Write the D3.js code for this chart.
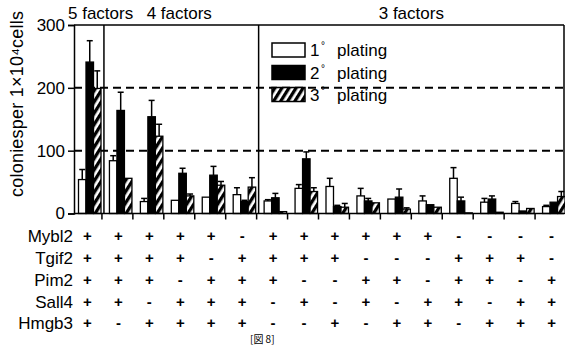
<!DOCTYPE html>
<html>
<head>
<meta charset="utf-8">
<script src="https://cdn.jsdelivr.net/npm/d3@7/dist/d3.min.js"></script>
<style>
  html, body { margin: 0; padding: 0; background: #fff; }
  svg { display: block; font-family: "Liberation Sans", Arial, sans-serif; }
</style>
</head>
<body>
<svg id="chart" width="565" height="345"></svg>
<script>
// values (colonies per 1x10^4 cells)
const plating1 = [54, 84, 19, 21, 26, 30, 20, 40, 43, 28, 23, 20, 56, 18, 16, 11];
const err1     = [16, 8, 5, 0, 0, 11, 2, 6, 13, 12, 0, 8, 17, 6, 3, 2];
const plating2 = [241, 164, 154, 64, 61, 19, 25, 87, 11, 20, 26, 14, 20, 23, 4, 18];
const err2     = [34, 29, 26, 8, 14, 2, 7, 11, 2, 4, 13, 0, 6, 5, 0, 0];
const plating3 = [199, 56, 123, 28, 45, 42, 3, 35, 10, 17, 7, 10, 1, 2, 8, 27];
const err3     = [28, 0, 19, 3, 6, 15, 0, 6, 6, 0, 2, 0, 0, 0, 0, 8];

const seriesNames = ['1', '2', '3'];
const factorNames = ['Mybl2', 'Tgif2', 'Pim2', 'Sall4', 'Hmgb3'];
const mybl2 = ['+','+','+','+','+','-','+','+','+','+','+','+','-','-','-','-'];
const tgif2 = ['+','+','+','+','-','+','+','+','+','-','-','-','+','+','+','-'];
const pim2  = ['+','+','+','-','+','+','+','-','-','+','+','-','+','+','-','+'];
const sall4 = ['+','+','-','+','+','+','-','+','-','+','-','+','+','-','+','+'];
const hmgb3 = ['+','-','+','+','+','+','-','-','+','-','+','+','-','+','+','+'];
const sectionLabels = ['5 factors', '4 factors', '3 factors'];
const sectionSizes = [1, 5, 10];
const yTicks = [0, 100, 200, 300];

const svg = d3.select('#chart');
const groups = d3.range(plating1.length);
const values = [plating1, plating2, plating3];
const errors = [err1, err2, err3];
const signs = [mybl2, tgif2, pim2, sall4, hmgb3];

const x0 = d3.scaleBand().domain(groups).range([71, 566]).padding(0);
const x1 = d3.scaleBand().domain([0, 1, 2]).range([7.5, 30]).padding(0);
const y = d3.scaleLinear().domain([0, 300]).range([213.5, 25]);
const axisX = 74, rightX = 564;

const defs = svg.append('defs');
const pat = defs.append('pattern')
  .attr('id', 'hatch').attr('patternUnits', 'userSpaceOnUse')
  .attr('width', 6).attr('height', 6)
  .attr('patternTransform', 'rotate(32)');
pat.append('rect').attr('width', 6).attr('height', 6).attr('fill', '#fff');
pat.append('rect').attr('width', 3.3).attr('height', 6).attr('fill', '#000');

const fills = ['#fff', '#000', 'url(#hatch)'];

// frame
svg.append('line').attr('x1', axisX).attr('x2', rightX).attr('y1', y(300)).attr('y2', y(300))
  .attr('stroke', '#000').attr('stroke-width', 1.5);
svg.append('line').attr('x1', rightX).attr('x2', rightX).attr('y1', y(300)).attr('y2', y(0))
  .attr('stroke', '#000').attr('stroke-width', 1.5);

// dashed reference lines
svg.selectAll('.ref').data([100, 200]).enter().append('line')
  .attr('x1', axisX).attr('x2', rightX)
  .attr('y1', d => y(d)).attr('y2', d => y(d))
  .attr('stroke', '#000').attr('stroke-width', 2).attr('stroke-dasharray', '8,5');

// section dividers and labels
let start = 0;
sectionSizes.forEach((n, i) => {
  const left = x0(start);
  const right = x0(start + n - 1) + x0.bandwidth();
  if (i > 0) {
    svg.append('line').attr('x1', left + 2).attr('x2', left + 2)
      .attr('y1', y(300)).attr('y2', y(0))
      .attr('stroke', '#000').attr('stroke-width', 1.5);
  }
  svg.append('text')
    .attr('x', i === 0 ? left - 3 : (left + right) / 2)
    .attr('y', 19)
    .attr('text-anchor', i === 0 ? 'start' : 'middle')
    .attr('font-size', 17)
    .text(sectionLabels[i]);
  start += n;
});

// bars
const g = svg.selectAll('.grp').data(groups).enter().append('g')
  .attr('transform', d => 'translate(' + x0(d) + ',0)');

[0, 1, 2].forEach(s => {
  g.append('rect')
    .attr('x', x1(s))
    .attr('y', d => y(values[s][d]))
    .attr('width', x1.bandwidth())
    .attr('height', d => y(0) - y(values[s][d]))
    .attr('fill', fills[s])
    .attr('stroke', '#000').attr('stroke-width', 1.3);
  const eb = g.filter(d => errors[s][d] > 0);
  eb.append('line')
    .attr('x1', x1(s) + x1.bandwidth() / 2).attr('x2', x1(s) + x1.bandwidth() / 2)
    .attr('y1', d => y(values[s][d])).attr('y2', d => y(values[s][d] + errors[s][d]))
    .attr('stroke', '#000').attr('stroke-width', 1.5);
  eb.append('line')
    .attr('x1', x1(s) + x1.bandwidth() / 2 - 3).attr('x2', x1(s) + x1.bandwidth() / 2 + 3)
    .attr('y1', d => y(values[s][d] + errors[s][d])).attr('y2', d => y(values[s][d] + errors[s][d]))
    .attr('stroke', '#000').attr('stroke-width', 1.5);
});

// y axis
const yAxis = d3.axisLeft(y).tickValues(yTicks).tickSize(6).tickPadding(3).tickFormat(d3.format('d'));
const ya = svg.append('g').attr('transform', 'translate(' + axisX + ',0)').call(yAxis);
ya.select('.domain').attr('stroke-width', 1.5);
ya.selectAll('.tick line').attr('stroke-width', 1.5);
ya.selectAll('.tick text').attr('font-size', 17).attr('font-family', '"Liberation Sans", Arial, sans-serif').attr('fill', '#000');

// x baseline with ticks between groups
svg.append('line').attr('x1', axisX).attr('x2', rightX).attr('y1', y(0)).attr('y2', y(0))
  .attr('stroke', '#000').attr('stroke-width', 1.5);
svg.selectAll('.xt').data(groups.slice(1)).enter().append('line')
  .attr('x1', d => x0(d)).attr('x2', d => x0(d))
  .attr('y1', y(0)).attr('y2', y(0) + 6)
  .attr('stroke', '#000').attr('stroke-width', 1.5);

svg.append('text')
  .attr('transform', 'translate(23,' + 104 + ') rotate(-90)')
  .attr('text-anchor', 'middle')
  .attr('font-size', 18)
  .attr('textLength', 186).attr('lengthAdjust', 'spacing')
  .text('coloniesper 1\u00d710\u2074cells');

// legend
const legendY = [50, 72.5, 94.5];
const lg = svg.selectAll('.leg').data(seriesNames).enter().append('g')
  .attr('transform', (d, i) => 'translate(0,' + legendY[i] + ')');
lg.append('rect').attr('x', 272).attr('y', -7).attr('width', 33).attr('height', 14)
  .attr('fill', (d, i) => fills[i]).attr('stroke', '#000').attr('stroke-width', 1.5);
lg.append('text').attr('x', 310).attr('y', 6).attr('font-size', 17).text(d => d);
lg.append('text').attr('x', 321).attr('y', -1).attr('font-size', 10).text('\u00b0');
lg.append('text').attr('x', 337).attr('y', 6).attr('font-size', 17).text('plating');

// factor table
const rowY = [236, 258, 280, 302, 323];
factorNames.forEach((name, r) => {
  svg.append('text').attr('x', 73).attr('y', rowY[r]).attr('dy', '0.36em')
    .attr('text-anchor', 'end').attr('font-size', 17).text(name);
  svg.selectAll('.sg' + r).data(groups).enter().append('text')
    .attr('x', d => x0(d) + x0.bandwidth() / 2 + 1)
    .attr('y', rowY[r]).attr('dy', '0.36em')
    .attr('text-anchor', 'middle').attr('font-size', 15).attr('font-weight', 'bold')
    .text(d => signs[r][d]);
});

svg.append('text').attr('x', 250).attr('y', 343)
  .attr('font-family', '"Noto Sans CJK JP", sans-serif').attr('font-size', 10)
  .text('[\u56f3 8]');
</script>
</body>
</html>
